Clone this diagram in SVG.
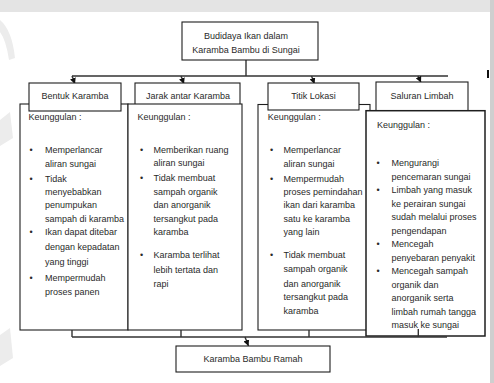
<svg xmlns="http://www.w3.org/2000/svg" width="494" height="383" viewBox="0 0 494 383">
<style>
.box{fill:#fff;stroke:#1e1e1e;stroke-width:1.1}
.t{font-family:"Liberation Sans",Arial,sans-serif;font-size:9px;fill:#2a2a2a}
.c{text-anchor:middle}
.ln{fill:none;stroke:#333;stroke-width:1.4}
.bg{fill:#ececec}
</style>
<defs>
<marker id="ah" viewBox="0 0 6 6" refX="6" refY="3" markerWidth="6" markerHeight="6" markerUnits="userSpaceOnUse" orient="auto">
<path d="M0,0 L6,3 L0,6 z" fill="#111"/>
</marker>
</defs>
<rect width="494" height="383" fill="#fff"/>
<g id="background">
<rect x="0" y="0" width="494" height="12" fill="#e4e4e4"/>
<rect x="490" y="0" width="4" height="383" fill="#cfcfcf"/>
<path d="M0,20 Q12,30 15,58 L9,60 Q6,40 0,32 z" class="bg"/>
<path d="M0,120 L10,112 L13,138 L0,146 z" class="bg"/>
<path d="M0,335 L10,328 L13,358 L0,366 z" class="bg"/>
<rect x="487" y="70" width="2" height="8" fill="#111"/>
</g>
<g id="connectors">
<path class="ln" d="M246,60 V76 M72,76 H448"/>
<path class="ln" d="M72,76 L75,84" marker-end="url(#ah)"/>
<path class="ln" d="M181,76 L184,84" marker-end="url(#ah)"/>
<path class="ln" d="M311.5,76 L314.5,84" marker-end="url(#ah)"/>
<path class="ln" d="M418,76 L421,82.5" marker-end="url(#ah)"/>
</g>
<g id="root">
<rect class="box" x="182" y="22" width="136" height="38"/>
<text class="t c" x="246" y="39">Budidaya Ikan dalam</text>
<text class="t c" x="246" y="52.5">Karamba Bambu di Sungai</text>
</g>
<g id="jarak-header">
<rect class="box" x="135" y="83" width="105" height="30"/>
<text class="t c" x="188" y="99">Jarak antar Karamba</text>
</g>
<g id="saluran-header">
<rect class="box" x="376" y="82" width="92" height="35"/>
<text class="t c" x="422" y="99">Saluran Limbah</text>
</g>
<g id="bentuk-body">
<rect class="box" x="20" y="104" width="108" height="226"/>
<text class="t" x="28.5" y="120">Keunggulan :</text>
<text class="t" x="29.5" y="152.5">•</text>
<text class="t" x="45" y="152.5">Memperlancar</text>
<text class="t" x="45" y="166.5">aliran sungai</text>
<text class="t" x="29.5" y="181.5">•</text>
<text class="t" x="45" y="181.5">Tidak</text>
<text class="t" x="45" y="195">menyebabkan</text>
<text class="t" x="45" y="208.3">penumpukan</text>
<text class="t" x="45" y="221.5">sampah di karamba</text>
<text class="t" x="29.5" y="235.2">•</text>
<text class="t" x="45" y="235.2">Ikan dapat ditebar</text>
<text class="t" x="45" y="250">dengan kepadatan</text>
<text class="t" x="45" y="265">yang tinggi</text>
<text class="t" x="29.5" y="280.5">•</text>
<text class="t" x="45" y="280.5">Mempermudah</text>
<text class="t" x="45" y="295">proses panen</text>
</g>
<g id="bentuk-header">
<rect class="box" x="29" y="83" width="92" height="28"/>
<text class="t c" x="75" y="99">Bentuk Karamba</text>
</g>
<g id="jarak-body">
<rect class="box" x="128" y="104" width="114" height="226"/>
<text class="t" x="137.5" y="120">Keunggulan :</text>
<text class="t" x="140" y="152.5">•</text>
<text class="t" x="153.5" y="152.5">Memberikan ruang</text>
<text class="t" x="153.5" y="166.3">aliran sungai</text>
<text class="t" x="140" y="181.2">•</text>
<text class="t" x="153.5" y="181.2">Tidak membuat</text>
<text class="t" x="153.5" y="195">sampah organik</text>
<text class="t" x="153.5" y="208.3">dan anorganik</text>
<text class="t" x="153.5" y="221.5">tersangkut pada</text>
<text class="t" x="153.5" y="235.2">karamba</text>
<text class="t" x="140" y="258.2">•</text>
<text class="t" x="153.5" y="258.2">Karamba terlihat</text>
<text class="t" x="153.5" y="273.2">lebih tertata dan</text>
<text class="t" x="153.5" y="287.2">rapi</text>
</g>
<g id="titik-body">
<rect class="box" x="258" y="104.5" width="112" height="225.5"/>
<text class="t" x="267.7" y="120">Keunggulan :</text>
<text class="t" x="270" y="153.2">•</text>
<text class="t" x="283.5" y="153.2">Memperlancar</text>
<text class="t" x="283.5" y="166.5">aliran sungai</text>
<text class="t" x="270" y="181.5">•</text>
<text class="t" x="283.5" y="181.5">Mempermudah</text>
<text class="t" x="283.5" y="195">proses pemindahan</text>
<text class="t" x="283.5" y="208.3">ikan dari karamba</text>
<text class="t" x="283.5" y="221.5">satu ke karamba</text>
<text class="t" x="283.5" y="235">yang lain</text>
<text class="t" x="270" y="258.2">•</text>
<text class="t" x="283.5" y="258.2">Tidak membuat</text>
<text class="t" x="283.5" y="271.5">sampah organik</text>
<text class="t" x="283.5" y="286.5">dan anorganik</text>
<text class="t" x="283.5" y="300">tersangkut pada</text>
<text class="t" x="283.5" y="313.5">karamba</text>
</g>
<g id="titik-header">
<rect class="box" x="268" y="83" width="91" height="27"/>
<text class="t c" x="313.5" y="99">Titik Lokasi</text>
</g>
<g id="saluran-body">
<rect class="box" x="366" y="110.7" width="119" height="225.3" style="stroke-width:1.5"/>
<text class="t" x="377" y="128.3">Keunggulan :</text>
<text class="t" x="376.5" y="166">•</text>
<text class="t" x="391.5" y="166">Mengurangi</text>
<text class="t" x="391.5" y="179.5">pencemaran sungai</text>
<text class="t" x="376.5" y="193">•</text>
<text class="t" x="391.5" y="193">Limbah yang masuk</text>
<text class="t" x="391.5" y="206.6">ke perairan sungai</text>
<text class="t" x="391.5" y="220.2">sudah melalui proses</text>
<text class="t" x="391.5" y="233.7">pengendapan</text>
<text class="t" x="376.5" y="247.2">•</text>
<text class="t" x="391.5" y="247.2">Mencegah</text>
<text class="t" x="391.5" y="260.7">penyebaran penyakit</text>
<text class="t" x="376.5" y="274.3">•</text>
<text class="t" x="391.5" y="274.3">Mencegah sampah</text>
<text class="t" x="391.5" y="287.8">organik dan</text>
<text class="t" x="391.5" y="301.4">anorganik serta</text>
<text class="t" x="391.5" y="314.9">limbah rumah tangga</text>
<text class="t" x="391.5" y="328.4">masuk ke sungai</text>
</g>
<g id="bottom-connectors">
<path class="ln" d="M72,330 V337 M181,330 V337 M309,330 V337 M418.3,329 V337 M72,337 H447"/>
<path class="ln" d="M245,337 L248.5,346" marker-end="url(#ah)"/>
</g>
<g id="result">
<rect class="box" x="176" y="346" width="154" height="26"/>
<text class="t c" x="253" y="362">Karamba Bambu Ramah</text>
</g>
</svg>
